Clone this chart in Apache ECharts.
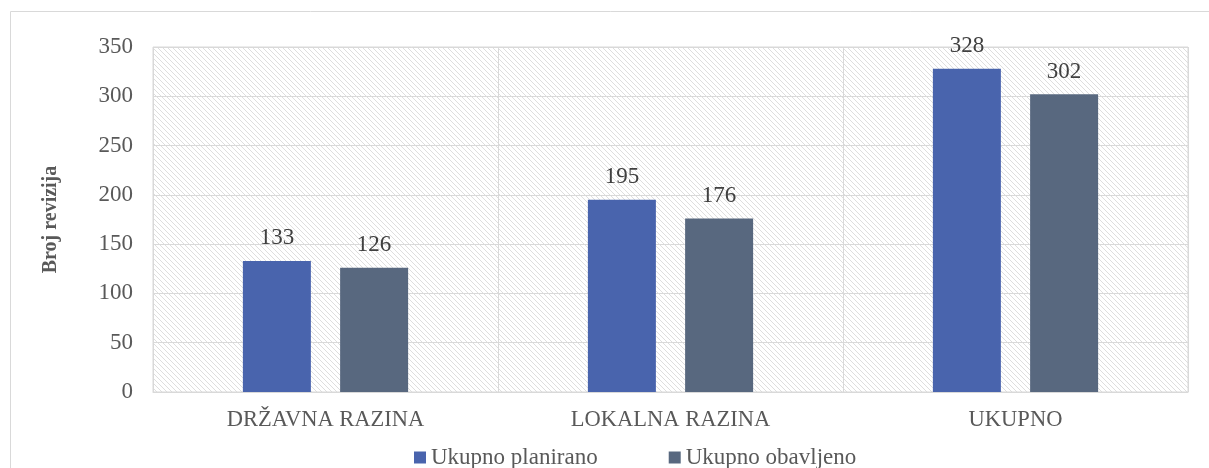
<!DOCTYPE html>
<html><head><meta charset="utf-8">
<script src="https://cdn.jsdelivr.net/npm/echarts@6/dist/echarts.min.js"></script>
<style>html,body{margin:0;padding:0;background:#fff;}#c{width:1209px;height:468px;}</style>
</head><body><div id="c"></div>
<script>
const categories = ['DRŽAVNA RAZINA', 'LOKALNA RAZINA', 'UKUPNO'];
const planirano = [133, 195, 328];
const obavljeno = [126, 176, 302];
const seriesNames = ['Ukupno planirano', 'Ukupno obavljeno'];

const tile = document.createElement('canvas');
const s = 5;
tile.width = s; tile.height = s;
const ctx = tile.getContext('2d');
ctx.fillStyle = '#ffffff'; ctx.fillRect(0,0,s,s);
ctx.strokeStyle = '#dedede'; ctx.lineWidth = 1;
for (const k of [-s, 0, s]) { ctx.beginPath(); ctx.moveTo(k, 0); ctx.lineTo(k + s, s); ctx.stroke(); }

const font = 'Liberation Serif';
const fs = 23;
const chart = echarts.init(document.getElementById('c'));
chart.setOption({
  animation: false,
  textStyle: { fontFamily: font },
  graphic: [{ type: 'rect', shape: { x: 10.5, y: 11.5, width: 1220, height: 480 }, style: { fill: 'none', stroke: '#d9d9d9', lineWidth: 1 }, z: -10 }],
  grid: { left: 153, right: 21, top: 47, bottom: 76, show: true, backgroundColor: { image: tile, repeat: 'repeat' }, borderColor: '#d9d9d9', borderWidth: 1 },
  legend: {
    left: 409, top: 441, itemWidth: 12, itemHeight: 12, itemGap: 71, icon: 'rect',
    textStyle: { fontFamily: font, fontSize: fs, color: '#595959', padding: [0, 0, 0, 0] },
    data: seriesNames
  },
  xAxis: {
    type: 'category', data: categories,
    axisLine: { show: true, lineStyle: { color: '#d9d9d9', width: 1 } },
    axisTick: { show: false },
    splitLine: { show: true, interval: 0, lineStyle: { color: '#d9d9d9', width: 1 } },
    axisLabel: { fontFamily: font, fontSize: 22.5, color: '#595959', margin: 17 }
  },
  yAxis: {
    type: 'value', min: 0, max: 350, interval: 50,
    name: 'Broj revizija', nameLocation: 'middle', nameGap: 92,
    nameTextStyle: { fontFamily: font, fontSize: 20, fontWeight: 'bold', color: '#595959' },
    axisLine: { show: false }, axisTick: { show: false },
    splitLine: { lineStyle: { color: '#d9d9d9', width: 1 } },
    axisLabel: { fontFamily: font, fontSize: fs, color: '#595959', margin: 20 }
  },
  series: [
    { name: seriesNames[0], type: 'bar', data: planirano, barWidth: 68, barGap: '43%',
      itemStyle: { color: '#4964ad' },
      label: { show: true, position: 'top', distance: 11, fontFamily: font, fontSize: fs, color: '#404040' } },
    { name: seriesNames[1], type: 'bar', data: obavljeno, barWidth: 68,
      itemStyle: { color: '#58687f' },
      label: { show: true, position: 'top', distance: 11, fontFamily: font, fontSize: fs, color: '#404040' } }
  ]
});
</script></body></html>
